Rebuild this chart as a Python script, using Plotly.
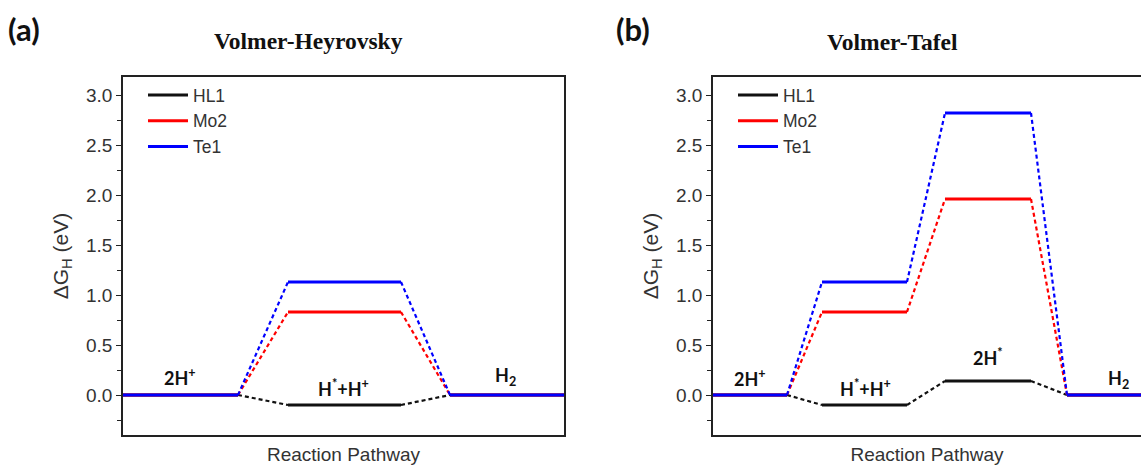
import plotly.graph_objects as go

# Free-energy diagrams for the hydrogen evolution reaction (ΔG_H in eV)
series = ["HL1", "Mo2", "Te1"]
colors = {"HL1": "#111111", "Mo2": "#ff0000", "Te1": "#0000ff"}

# (a) Volmer-Heyrovsky pathway
vh_states = ["2H<sup>+</sup>", "H<sup>*</sup>+H<sup>+</sup>", "H<sub>2</sub>"]
vh_HL1 = [0.0, -0.10, 0.0]
vh_Mo2 = [0.0, 0.83, 0.0]
vh_Te1 = [0.0, 1.13, 0.0]

# (b) Volmer-Tafel pathway
vt_states = ["2H<sup>+</sup>", "H<sup>*</sup>+H<sup>+</sup>", "2H<sup>*</sup>", "H<sub>2</sub>"]
vt_HL1 = [0.0, -0.10, 0.14, 0.0]
vt_Mo2 = [0.0, 0.83, 1.96, 0.0]
vt_Te1 = [0.0, 1.13, 2.82, 0.0]

# level extents along the reaction coordinate
vh_spans = [(0, 115), (165, 278), (327, 441)]
vt_spans = [(0, 74), (109, 194), (232, 318), (354, 441)]

# state label placement (x along pathway, height above level)
vh_label_pos = [(57, 0.18), (220, 0.07), (382, 0.19)]
vt_label_pos = [(37, 0.17), (152, 0.07), (275, 0.38), (405, 0.16)]


def level_traces(energies, spans, name, xa, ya, legend):
    sx, sy, dx, dy = [], [], [], []
    for i, (e, (a, b)) in enumerate(zip(energies, spans)):
        sx += [a, b, None]
        sy += [e, e, None]
        if i + 1 < len(spans):
            dx += [b, spans[i + 1][0], None]
            dy += [e, energies[i + 1], None]
    c = colors[name]
    solid = go.Scatter(x=sx, y=sy, mode="lines", name=name, legend=legend,
                       legendgroup=legend + name,
                       line=dict(color=c, width=3), xaxis=xa, yaxis=ya,
                       hoverinfo="skip")
    dashed = go.Scatter(x=dx, y=dy, mode="lines", showlegend=False,
                        legendgroup=legend + name,
                        line=dict(color=c, width=2.2, dash="4px,3px"),
                        xaxis=xa, yaxis=ya, hoverinfo="skip")
    return [dashed, solid]


fig = go.Figure()
vh_data = {"HL1": vh_HL1, "Mo2": vh_Mo2, "Te1": vh_Te1}
vt_data = {"HL1": vt_HL1, "Mo2": vt_Mo2, "Te1": vt_Te1}
for s in series:
    for tr in level_traces(vh_data[s], vh_spans, s, "x", "y", "legend"):
        fig.add_trace(tr)
for s in series:
    for tr in level_traces(vt_data[s], vt_spans, s, "x2", "y2", "legend2"):
        fig.add_trace(tr)

W, H = 1141, 466
TOP, BOTTOM = 77, 435          # plot-area pixel rows
PLOT_H = BOTTOM - TOP


def py(pixel_row):
    """Paper y for a pixel row measured from the top of the page."""
    return (BOTTOM - pixel_row) / PLOT_H


label_font = dict(family="Lato", size=18, color="#111111")
annotations = []
for txt, (x, y) in zip(vh_states, vh_label_pos):
    annotations.append(dict(x=x, y=y, xref="x", yref="y", text="<b>%s</b>" % txt,
                            showarrow=False, font=label_font))
for txt, (x, y) in zip(vt_states, vt_label_pos):
    annotations.append(dict(x=x, y=y, xref="x2", yref="y2", text="<b>%s</b>" % txt,
                            showarrow=False, font=label_font))

title_font = dict(family="Liberation Serif", size=23.5, color="#111111")
panel_font = dict(family="Lato", size=31, color="#111111")
centered = dict(xref="paper", yref="paper", xanchor="center", yanchor="middle",
                showarrow=False)
annotations += [
    dict(centered, x=308 / W, y=py(41), text="<b>Volmer-Heyrovsky</b>", font=title_font),
    dict(centered, x=892 / W, y=py(42), text="<b>Volmer-Tafel</b>", font=title_font),
    dict(centered, x=24 / W, y=py(29), text="<b>(a)</b>", font=panel_font),
    dict(centered, x=633 / W, y=py(29), text="<b>(b)</b>", font=panel_font),
]

axis_common = dict(showline=True, linecolor="#222222", linewidth=1.6, showgrid=False,
                   zeroline=False)
xaxis_common = dict(axis_common, showticklabels=False, ticks="",
                    title=dict(text="Reaction Pathway",
                               font=dict(family="Arial", size=19, color="#333333"),
                               standoff=12))
yaxis_common = dict(axis_common, range=[-0.4, 3.18], dtick=0.5, tick0=0, tickformat=".1f",
                    ticks="outside", ticklen=5, tickwidth=1.4, tickcolor="#222222",
                    tickfont=dict(family="Arial", size=19, color="#333333"),
                    minor=dict(dtick=0.25, ticks="outside", ticklen=4, tickwidth=1.4,
                               tickcolor="#222222"),
                    title=dict(text="ΔG<sub>H</sub> (eV)",
                               font=dict(family="Arial", size=21, color="#333333"),
                               standoff=12))

legend_common = dict(font=dict(family="Arial", size=17.5, color="#333333"),
                     bgcolor="rgba(0,0,0,0)", tracegroupgap=0, itemwidth=40,
                     xanchor="left", yanchor="top", xref="paper", yref="paper")

fig.update_layout(
    width=W, height=H,
    margin=dict(l=0, r=0, t=TOP, b=H - BOTTOM),
    paper_bgcolor="white", plot_bgcolor="white",
    xaxis=dict(xaxis_common, domain=[123 / W, 564 / W], range=[0, 441], mirror=True),
    yaxis=dict(yaxis_common, anchor="x", mirror=True),
    xaxis2=dict(xaxis_common, domain=[713 / W, 1.0], range=[0, 428], mirror=True,
                anchor="y2"),
    yaxis2=dict(yaxis_common, anchor="x2", mirror=False),
    legend=dict(legend_common, x=143 / W, y=py(77)),
    legend2=dict(legend_common, x=733 / W, y=py(77)),
    annotations=annotations,
    showlegend=True,
)

fig.write_html("out.html")
